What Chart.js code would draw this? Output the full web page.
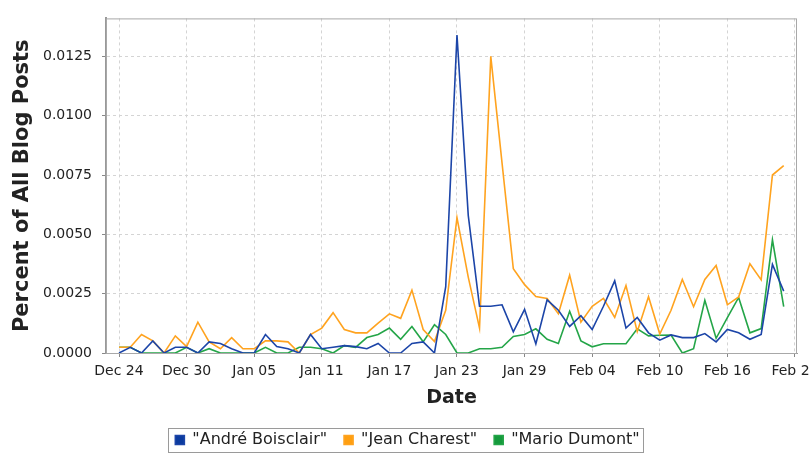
<!DOCTYPE html>
<html>
<head>
<meta charset="utf-8">
<script src="https://cdn.jsdelivr.net/npm/chart.js@4/dist/chart.umd.min.js"></script>
<style>
  html, body { margin: 0; padding: 0; background: #fff; }
  #wrap { width: 809px; height: 455px; }
</style>
</head>
<body>
<div id="wrap"><canvas id="chart" width="809" height="455"></canvas></div>
<script>
// ! DATA
const dates = [
  "Dec 24", "Dec 25", "Dec 26", "Dec 27", "Dec 28", "Dec 29", "Dec 30", "Dec 31",
  "Jan 01", "Jan 02", "Jan 03", "Jan 04", "Jan 05", "Jan 06", "Jan 07", "Jan 08",
  "Jan 09", "Jan 10", "Jan 11", "Jan 12", "Jan 13", "Jan 14", "Jan 15", "Jan 16",
  "Jan 17", "Jan 18", "Jan 19", "Jan 20", "Jan 21", "Jan 22", "Jan 23", "Jan 24",
  "Jan 25", "Jan 26", "Jan 27", "Jan 28", "Jan 29", "Jan 30", "Jan 31", "Feb 01",
  "Feb 02", "Feb 03", "Feb 04", "Feb 05", "Feb 06", "Feb 07", "Feb 08", "Feb 09",
  "Feb 10", "Feb 11", "Feb 12", "Feb 13", "Feb 14", "Feb 15", "Feb 16", "Feb 17",
  "Feb 18", "Feb 19", "Feb 20", "Feb 21",
];

const boisclair = [
  0, 0.00024, 0, 0.00051, 0, 0.00024, 0.00024, 0, 0.00047, 0.0004,
  0.00018, 0, 0, 0.00078, 0.00027, 0.00018, 0, 0.00078, 0.00018, 0.00024,
  0.00031, 0.00027, 0.00018, 0.0004, 0, 0, 0.0004, 0.00047, 0, 0.0028,
  0.0134, 0.0058, 0.00197, 0.00197, 0.00203, 0.00089, 0.00184, 0.00038, 0.00224, 0.0018,
  0.00112, 0.00157, 0.00099, 0.00197, 0.00304, 0.00105, 0.0015, 0.00085, 0.00054, 0.00076,
  0.00065, 0.00065, 0.00082, 0.00047, 0.00099, 0.00085, 0.00058, 0.00078, 0.00373, 0.00261,
];

const charest = [
  0.00024, 0.00024, 0.00078, 0.00051, 0, 0.00072, 0.00027, 0.0013, 0.00047, 0.00018,
  0.00065, 0.00018, 0.00018, 0.00051, 0.00051, 0.00047, 0, 0.00078, 0.00105, 0.0017,
  0.00099, 0.00085, 0.00085, 0.00126, 0.00165, 0.00146, 0.00265, 0.00099, 0.00048, 0.0018,
  0.0057, 0.0032, 0.00105, 0.0125, 0.008, 0.00355, 0.00288, 0.00238, 0.0023, 0.00166,
  0.00328, 0.0013, 0.00197, 0.0023, 0.0015, 0.00284, 0.0009, 0.00237, 0.0008, 0.0018,
  0.0031, 0.00195, 0.0031, 0.00369, 0.00203, 0.00236, 0.00376, 0.00308, 0.0075, 0.0079,
];

const dumont = [
  0.00024, 0.00024, 0, 0, 0, 0, 0.00024, 0, 0.00018, 0,
  0, 0, 0, 0.00024, 0, 0, 0.00024, 0.00024, 0.00018, 0,
  0.00031, 0.00024, 0.00065, 0.00078, 0.00105, 0.00058, 0.00112, 0.00047, 0.00119, 0.00078,
  0, 0, 0.00018, 0.00018, 0.00024, 0.0007, 0.00078, 0.00102, 0.00058, 0.0004,
  0.00176, 0.00051, 0.00026, 0.00039, 0.00039, 0.00039, 0.00102, 0.00072, 0.00075, 0.00076,
  0, 0.00018, 0.00222, 0.00062, 0.00149, 0.00234, 0.00085, 0.00103, 0.00477, 0.00195,
];

const tickDays = [0, 6, 12, 18, 24, 30, 36, 42, 48, 54, 60];
const tickLabels = [
  "Dec 24", "Dec 30", "Jan 05", "Jan 11", "Jan 17", "Jan 23",
  "Jan 29", "Feb 04", "Feb 10", "Feb 16", "Feb 22",
];
const yTicks = [0, 0.0025, 0.005, 0.0075, 0.01, 0.0125];

// ! HELPERS
const toPoints = (arr) => arr.map((v, i) => ({ x: i, y: v }));
const FONT = "'DejaVu Sans', 'Liberation Sans', sans-serif";
const LEGEND_SHIFT = 9;

// nudges the legend a little right and draws the light frames
const framePlugin = {
  id: "frames",
  afterUpdate(chart) {
    const legend = chart.legend;
    legend.left += LEGEND_SHIFT;
    legend.right += LEGEND_SHIFT;
    legend.legendHitBoxes.forEach((b) => (b.left += LEGEND_SHIFT));
  },
  afterDraw(chart) {
    const { ctx, chartArea: a } = chart;
    ctx.save();
    ctx.strokeStyle = "#a8a8a8";
    ctx.lineWidth = 1;
    ctx.strokeRect(a.left + 0.5, a.top + 0.5, a.right - a.left - 1, a.bottom - a.top);

    const boxes = chart.legend.legendHitBoxes;
    if (boxes && boxes.length) {
      const l = Math.min(...boxes.map((b) => b.left)) - 7;
      const r = Math.max(...boxes.map((b) => b.left + b.width)) + 4;
      const t = boxes[0].top - 4;
      const h = boxes[0].height + 8;
      ctx.strokeStyle = "#9a9a9a";
      ctx.strokeRect(Math.round(l) + 0.5, Math.round(t) + 0.5, Math.round(r - l), Math.round(h));
    }
    ctx.restore();
  },
};

// ! CHART
const ctx = document.querySelector("#chart").getContext("2d");
new Chart(ctx, {
  type: "line",
  data: {
    datasets: [
      {
        label: '"André Boisclair"',
        data: toPoints(boisclair),
        borderColor: "#1c45a8",
        backgroundColor: "#0b3a9e",
      },
      {
        label: '"Jean Charest"',
        data: toPoints(charest),
        borderColor: "#ffa31f",
        backgroundColor: "#ff9f10",
      },
      {
        label: '"Mario Dumont"',
        data: toPoints(dumont),
        borderColor: "#24a548",
        backgroundColor: "#159a3c",
      },
    ],
  },
  options: {
    responsive: false,
    animation: false,
    layout: { padding: { top: 4, right: 12, left: 0, bottom: -3 } },
    elements: {
      line: { borderWidth: 1.6, tension: 0 },
      point: { radius: 0 },
    },
    plugins: {
      tooltip: { enabled: false },
      legend: {
        position: "bottom",
        labels: {
          boxWidth: 9,
          boxHeight: 9,
          padding: 17,
          color: "#222",
          font: { family: FONT, size: 16 },
        },
      },
    },
    scales: {
      x: {
        type: "linear",
        min: -1.154,
        max: 60.18,
        afterBuildTicks: (scale) => {
          scale.ticks = tickDays.map((d) => ({ value: d }));
        },
        afterFit: (scale) => {
          scale.height = 62;
          scale.paddingLeft = 0;
          scale.paddingRight = 0;
        },
        ticks: {
          autoSkip: false,
          maxRotation: 0,
          padding: 6,
          color: "#222",
          font: { family: FONT, size: 14 },
          callback: (v) => tickLabels[tickDays.indexOf(v)],
        },
        grid: {
          color: "#d4d4d4",
          tickColor: "#888",
          tickLength: 4,
        },
        border: { color: "#999", width: 1, dash: [3, 3] },
        title: {
          display: true,
          text: "Date",
          color: "#222",
          font: { family: FONT, size: 19, weight: "bold" },
          padding: { top: 6, bottom: 6 },
        },
      },
      y: {
        min: 0,
        max: 0.0141,
        afterBuildTicks: (scale) => {
          scale.ticks = yTicks.map((v) => ({ value: v }));
        },
        afterFit: (scale) => {
          scale.width = 106;
        },
        ticks: {
          padding: 10,
          color: "#222",
          font: { family: FONT, size: 14 },
          callback: (v) => v.toFixed(4),
        },
        grid: {
          color: "#d4d4d4",
          tickColor: "#888",
          tickLength: 4,
        },
        border: { color: "#999", width: 2, dash: [3, 3] },
        title: {
          display: true,
          text: "Percent of All Blog Posts",
          color: "#222",
          font: { family: FONT, size: 21, weight: "bold" },
          padding: { top: 10, bottom: 4 },
        },
      },
    },
  },
  plugins: [framePlugin],
});
</script>
</body>
</html>
